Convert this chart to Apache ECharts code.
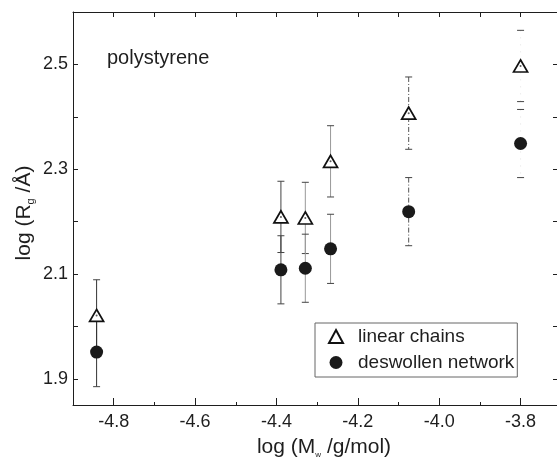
<!DOCTYPE html>
<html>
<head>
<meta charset="utf-8">
<script src="https://cdn.jsdelivr.net/npm/echarts@6/dist/echarts.min.js"></script>
<style>
  html, body { margin: 0; padding: 0; background: #fff; }
  #chart { width: 557px; height: 458px; }
</style>
</head>
<body>
<div id="chart"></div>
<script>
// log of molar mass for each sample
const logM = [-4.842, -4.389, -4.329, -4.267, -4.075, -3.800];
// log(Rg) of the linear chains and their error
const linearChains = [2.021, 2.209, 2.207, 2.315, 2.407, 2.497];
const linearErr = [0.068, 0.068, 0.068, 0.068, 0.069, 0.068];
// log(Rg) of the deswollen network and its error
const network = [1.951, 2.108, 2.111, 2.148, 2.219, 2.349];
const networkErr = [0.066, 0.065, 0.065, 0.066, 0.065, 0.065];

// axis ticks
const xLabels = [-4.8, -4.6, -4.4, -4.2, -4.0, -3.8];
const xMinor = [-4.7, -4.5, -4.3, -4.1, -3.9];
const xAll = [-4.8, -4.7, -4.6, -4.5, -4.4, -4.3, -4.2, -4.1, -4.0, -3.9, -3.8];
const yLabels = [1.9, 2.1, 2.3, 2.5];
const yAll = [1.9, 2.0, 2.1, 2.2, 2.3, 2.4, 2.5];

const FONT = 'Liberation Sans, Arial, Helvetica, sans-serif';
const INK = '#1e1e1e';

// stroke look of each error bar stem (the printed bars vary in weight)
const stemLook = [
  { stroke: '#333', dash: null, opacity: 1 },
  { stroke: '#444', dash: null, opacity: 1 },
  { stroke: '#999', dash: null, opacity: 1 },
  { stroke: '#999', dash: null, opacity: 1 },
  { stroke: '#555', dash: [5, 2, 1, 2], opacity: 1 },
  { stroke: '#bbb', dash: [1, 6], opacity: 0.4 }
];

function errRows(ys, errs) {
  return logM.map((x, i) => [x, ys[i], errs[i]]);
}
function pts(ys) {
  return logM.map((x, i) => [x, ys[i]]);
}

function renderErr(params, api) {
  const x = api.value(0), y = api.value(1), e = api.value(2);
  const look = stemLook[params.dataIndex];
  const hi = api.coord([x, y + e]);
  const lo = api.coord([x, y - e]);
  const cap = 3.5;
  return {
    type: 'group',
    children: [
      { type: 'line', shape: { x1: hi[0], y1: hi[1], x2: lo[0], y2: lo[1] },
        style: { stroke: look.stroke, lineWidth: 1, lineDash: look.dash, opacity: look.opacity } },
      { type: 'line', shape: { x1: hi[0] - cap, y1: hi[1], x2: hi[0] + cap, y2: hi[1] },
        style: { stroke: '#444', lineWidth: 1 } },
      { type: 'line', shape: { x1: lo[0] - cap, y1: lo[1], x2: lo[0] + cap, y2: lo[1] },
        style: { stroke: '#444', lineWidth: 1 } }
    ]
  };
}

const xMin = -4.9, xMax = -3.708;
const yMin = 1.85, yMax = 2.6;
const fmt = v => v.toFixed(1);

const chart = echarts.init(document.getElementById('chart'), null, { renderer: 'canvas' });
chart.setOption({
  animation: false,
  backgroundColor: '#fff',
  textStyle: { fontFamily: FONT },
  grid: { left: 73, right: -1, top: 12, bottom: 53, containLabel: false, outerBoundsMode: 'none' },
  xAxis: [
    { type: 'value', min: xMin, max: xMax, position: 'bottom',
      axisLine: { lineStyle: { color: INK, width: 1 } },
      axisTick: { inside: true, length: 7, customValues: xLabels, lineStyle: { color: INK } },
      axisLabel: { customValues: xLabels, formatter: fmt, margin: 8, fontSize: 18, color: INK, fontFamily: FONT },
      splitLine: { show: false } },
    { type: 'value', min: xMin, max: xMax, position: 'bottom',
      axisLine: { show: false },
      axisTick: { inside: true, length: 3, customValues: xMinor, lineStyle: { color: INK } },
      axisLabel: { show: false }, splitLine: { show: false } },
    { type: 'value', min: xMin, max: xMax, position: 'top',
      axisLine: { lineStyle: { color: INK, width: 1 } },
      axisTick: { inside: true, length: 5, customValues: xAll, lineStyle: { color: INK } },
      axisLabel: { show: false }, splitLine: { show: false } }
  ],
  yAxis: [
    { type: 'value', min: yMin, max: yMax, position: 'left',
      axisLine: { show: true, lineStyle: { color: INK, width: 1 } },
      axisTick: { show: true, inside: true, length: 5, customValues: yAll, lineStyle: { color: INK } },
      axisLabel: { customValues: yLabels, formatter: fmt, margin: 5, fontSize: 18, color: INK, fontFamily: FONT },
      splitLine: { show: false } },
    { type: 'value', min: yMin, max: yMax, position: 'right',
      axisLine: { show: true, lineStyle: { color: INK, width: 1 } },
      axisTick: { show: true, inside: true, length: 5, customValues: yAll, lineStyle: { color: INK } },
      axisLabel: { show: false }, splitLine: { show: false } }
  ],
  legend: {
    orient: 'vertical',
    left: 315, top: 323,
    data: ['linear chains', 'deswollen network'],
    itemWidth: 14, itemHeight: 13, itemGap: 7,
    padding: [4, 3, 5, 13],
    borderColor: '#666', borderWidth: 1,
    textStyle: { fontSize: 19, color: INK, fontFamily: FONT, padding: [0, 0, 0, 10], lineHeight: 18 }
  },
  series: [
    { name: 'linear chains err', type: 'custom', renderItem: renderErr, silent: true, z: 1,
      data: errRows(linearChains, linearErr) },
    { name: 'deswollen network err', type: 'custom', renderItem: renderErr, silent: true, z: 1,
      data: errRows(network, networkErr) },
    { name: 'linear chains', type: 'scatter', symbol: 'triangle', symbolSize: [14, 12], z: 3,
      itemStyle: { color: '#fff', borderColor: '#111', borderWidth: 1.7, opacity: 1 },
      data: pts(linearChains) },
    { name: 'triangle centre', type: 'scatter', symbol: 'circle', symbolSize: 2, z: 4, silent: true,
      itemStyle: { color: '#333' }, data: pts(linearChains) },
    { name: 'deswollen network', type: 'scatter', symbol: 'circle', symbolSize: 13, z: 3,
      itemStyle: { color: '#1a1a1a', opacity: 1 },
      data: pts(network) }
  ],
  graphic: [
    { type: 'text', left: 107, top: 48, style: { text: 'polystyrene', fontSize: 20, fill: INK, fontFamily: FONT } },
    { type: 'text', x: 24, y: 213, rotation: Math.PI / 2,
      style: {
        text: '{a|log (R}{s|g}{a| /Å)}',
        align: 'center', verticalAlign: 'middle',
        rich: {
          a: { fontSize: 21, fill: INK, fontFamily: FONT, lineHeight: 24, verticalAlign: 'middle' },
          s: { fontSize: 11, fill: INK, fontFamily: FONT, lineHeight: 11, verticalAlign: 'bottom' }
        }
      } },
    { type: 'text', x: 324, y: 447,
      style: {
        text: '{a|log (M}{s|w}{a| /g/mol)}',
        align: 'center', verticalAlign: 'middle',
        rich: {
          a: { fontSize: 21, fill: INK, fontFamily: FONT, lineHeight: 24, verticalAlign: 'middle' },
          s: { fontSize: 8, fill: INK, fontFamily: FONT, lineHeight: 8, verticalAlign: 'bottom' }
        }
      } }
  ]
});
</script>
</body>
</html>
